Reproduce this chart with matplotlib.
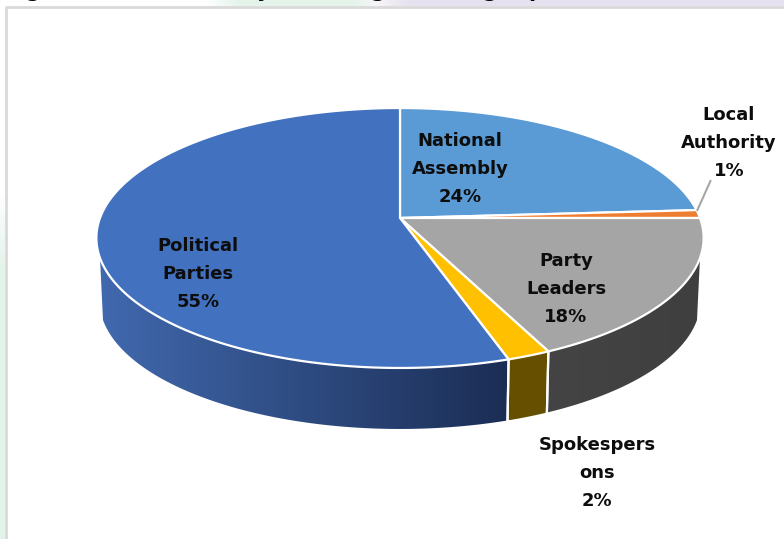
import numpy as np
import matplotlib
matplotlib.use('Agg')
from matplotlib import pyplot as plt
from matplotlib.colors import to_rgb
from matplotlib.patches import Polygon

# share of coverage per group, clockwise from 12 o'clock
categories = ['National\nAssembly', 'Local\nAuthority', 'Party\nLeaders', 'Spokespers\nons', 'Political\nParties']
values = [24, 1, 18, 2, 55]
top_colors = ['#5b9bd5', '#ed7d31', '#a5a5a5', '#ffc000', '#4271c0']
side_colors = [('#335d87', '#335d87'), ('#8f4b1d', '#8f4b1d'), ('#444444', '#3f3f3f'),
               ('#665000', '#665000'), ('#1b2d54', '#4169ae')]
label_pos = [(460, 169), (729, 143), (566, 289), (597, 473), (198, 274)]

# disc geometry in pixels, with a simple perspective
CX, CY = 400, 218
RX, RY, PERSP = 300.0, 126.9, 0.1538
BOTTOM_SCALE, BOTTOM_CY = 0.99, 280.5
SIDE_FROM, SIDE_TO = 107.5, 252.5


def rim(theta, cy=CY, scale=1.0):
    # theta in degrees, clockwise from the top of the disc
    t = np.radians(theta)
    w = 1 + PERSP * np.cos(t)
    return CX + scale * RX * np.sin(t) / w, cy - scale * RY * np.cos(t) / w


def arc_points(a, b, cy=CY, scale=1.0):
    n = max(int(abs(b - a) * 2), 2)
    x, y = rim(np.linspace(a, b, n), cy, scale)
    return np.column_stack([x, y])


def background(ax):
    ax.add_patch(plt.Rectangle((0, 0), 784, 539, fc='white', ec='none', zorder=0))
    # tinted band along the top
    xs = np.arange(784)
    stops = [0, 205, 240, 350, 375, 410, 784]
    cols = np.array([to_rgb(c) for c in ['#ffffff', '#ffffff', '#e3f3ea', '#e3f3ea',
                                         '#f6f6f8', '#e6e1ee', '#e6e1ee']])
    band = np.stack([np.interp(xs, stops, cols[:, i]) for i in range(3)], axis=-1)[None, :, :]
    ax.imshow(band, extent=(0, 784, 6, 0), aspect='auto', zorder=1)
    # and down the left side
    ys = np.arange(539)
    cols = np.array([to_rgb('#ffffff'), to_rgb('#e3f3ea')])
    strip = np.stack([np.interp(ys, [190, 270], cols[:, i]) for i in range(3)], axis=-1)[:, None, :]
    ax.imshow(strip, extent=(0, 5, 539, 0), aspect='auto', zorder=1)
    ax.plot([6, 6, 784], [539, 7, 7], color='#d9d9d9', lw=2, zorder=2, solid_capstyle='butt')
    # bottoms of the heading letters that reach into the picture
    for x, ch in zip([33, 264, 378, 490, 536], 'gyggp'):
        ax.text(x, -3, ch, family='DejaVu Sans', weight='bold', fontsize=15, ha='center',
                va='baseline', clip_on=True, zorder=2)


def draw_side(ax, a, b, colors):
    a, b = max(a, SIDE_FROM), min(b, SIDE_TO)
    if a >= b:
        return
    pts = np.vstack([arc_points(a, b), arc_points(b, a, BOTTOM_CY, BOTTOM_SCALE)])
    poly = Polygon(pts, closed=True, fc='none', ec='none', zorder=3)
    ax.add_patch(poly)
    x0, x1 = pts[:, 0].min(), pts[:, 0].max()
    y0, y1 = pts[:, 1].min(), pts[:, 1].max()
    left, right = np.array(to_rgb(colors[1])), np.array(to_rgb(colors[0]))
    if b > 180:
        grad = np.linspace(0, 1, 256)[None, :, None] * (right - left) + left
    else:
        # right hand side runs the other way
        grad = np.linspace(0, 1, 256)[None, :, None] * (left - right) + right
    im = ax.imshow(grad, extent=(x0, x1, y1, y0), aspect='auto', zorder=3)
    im.set_clip_path(poly)
    # white seam up the near end of each section
    for th in (a, b):
        if SIDE_FROM < th < SIDE_TO:
            p, q = rim(th), rim(th, BOTTOM_CY, BOTTOM_SCALE)
            ax.plot([p[0], q[0]], [p[1], q[1]], color='white', lw=1.6, zorder=4)


def draw_top(ax, a, b, color):
    pts = np.vstack([[CX, CY], arc_points(a, b)])
    ax.add_patch(Polygon(pts, closed=True, fc=color, ec='white', lw=1.6, joinstyle='miter', zorder=5))


if __name__ == '__main__':
    fig = plt.figure(figsize=(7.84, 5.39), dpi=100)
    ax = fig.add_axes([0, 0, 1, 1])
    background(ax)

    edges = np.concatenate([[0], np.cumsum(values)]) * 360.0 / sum(values)
    for i in range(len(values)):
        draw_side(ax, edges[i], edges[i + 1], side_colors[i])
    for i in range(len(values)):
        draw_top(ax, edges[i], edges[i + 1], top_colors[i])

    # leader line for the thin slice
    mx, my = rim((edges[1] + edges[2]) / 2)
    ax.plot([mx - 1, mx + 12], [my - 4, my - 33], color='#a6a6a6', lw=1.5, zorder=6)

    for name, val, (x, y) in zip(categories, values, label_pos):
        ax.text(x, y, name + '\n' + str(val) + '%', family='DejaVu Sans', weight='bold', fontsize=13,
                color='#0d0d0d', ha='center', va='center', linespacing=1.74, zorder=7)

    ax.set_xlim(0, 784)
    ax.set_ylim(539, 0)
    ax.axis('off')
    fig.savefig('out.png', dpi=100)
